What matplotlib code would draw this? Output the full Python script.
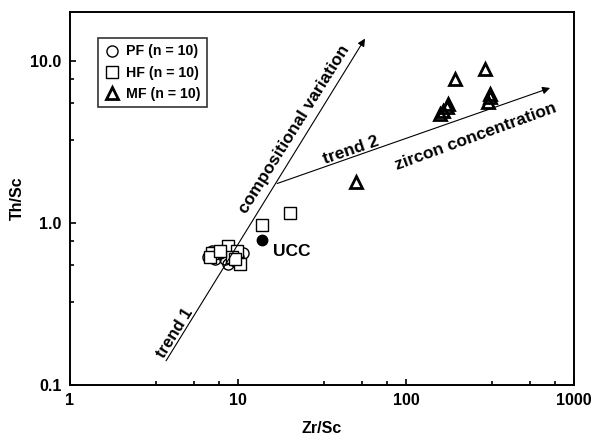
import matplotlib
matplotlib.use('agg')
import matplotlib.pyplot as plt
from matplotlib.ticker import FixedLocator, FixedFormatter, NullFormatter

plt.rcParams['font.family'] = ['Liberation Sans', 'DejaVu Sans']
plt.rcParams['font.weight'] = 'bold'

# PF samples
pf_zr_sc = [7.3, 8.7, 10.7, 6.6, 8.4, 10.0, 7.8, 9.2, 7.0, 9.6]
pf_th_sc = [0.60, 0.56, 0.65, 0.62, 0.60, 0.62, 0.65, 0.67, 0.67, 0.58]

# HF samples
hf_zr_sc = [8.7, 7.0, 10.3, 9.9, 6.8, 9.2, 7.8, 9.6, 13.9, 20.4]
hf_th_sc = [0.72, 0.65, 0.555, 0.67, 0.62, 0.62, 0.67, 0.60, 0.97, 1.15]

# MF samples
mf_zr_sc = [295, 196, 316, 308, 178, 166, 159, 50.4, 176, 316]
mf_th_sc = [8.9, 7.7, 6.2, 5.6, 5.4, 4.9, 4.7, 1.78, 5.16, 6.0]

# upper continental crust
ucc_zr_sc = 13.9
ucc_th_sc = 0.78

# trend arrows (start, end)
trend1 = [(3.73, 0.141), (57, 13.7)]
trend2 = [(17.1, 1.75), (720, 6.8)]

x_major = [1, 10, 100, 1000]
x_labels = ['1', '10', '100', '1000']
y_major = [0.1, 1, 10]
y_labels = ['0.1', '1.0', '10.0']
minor_steps = [3.25, 5.5, 7.75]


def main():
	fig = plt.figure(figsize=(5.95, 4.44), dpi=100)
	ax = fig.add_axes([70 / 595, 59 / 444, 504 / 595, 373 / 444])
	ax.set_xscale('log')
	ax.set_yscale('log')
	ax.set_xlim(1, 1000)
	ax.set_ylim(0.1, 20)

	ax.plot(pf_zr_sc, pf_th_sc, linestyle='none', marker='o', ms=8, mfc='none',
		mec='black', mew=1.0, label='PF (n = 10)')
	ax.plot(hf_zr_sc, hf_th_sc, linestyle='none', marker='s', ms=8.5, mfc='white',
		mec='black', mew=1.0, label='HF (n = 10)')
	ax.plot(mf_zr_sc, mf_th_sc, linestyle='none', marker='^', ms=8, mfc='none',
		mec='black', mew=2.0, label='MF (n = 10)')
	ax.plot([ucc_zr_sc], [ucc_th_sc], linestyle='none', marker='o', ms=7.5,
		color='black')
	ax.text(16.2, 0.67, 'UCC', fontsize=12.5, fontweight='bold', va='center', ha='left')

	# trend arrows
	for start, end in (trend1, trend2):
		ax.annotate('', xy=end, xytext=start,
			arrowprops=dict(arrowstyle='-|>', lw=0.8, color='black',
				mutation_scale=11, shrinkA=0, shrinkB=0))

	ax.text(21.5, 3.8, 'compositional variation', rotation=58, fontsize=12.5,
		ha='center', va='center', fontweight='bold')
	ax.text(4.2, 0.208, 'trend 1', rotation=58, fontsize=12,
		ha='center', va='center', fontweight='bold')
	ax.text(47, 2.82, 'trend 2', rotation=19, fontsize=12.5,
		ha='center', va='center', fontweight='bold')
	ax.text(261, 3.4, 'zircon concentration', rotation=20, fontsize=12.5,
		ha='center', va='center', fontweight='bold')

	# ticks
	x_minor = [s * d for d in [1, 10, 100] for s in minor_steps]
	y_minor = [s * d for d in [0.1, 1, 10] for s in minor_steps]
	ax.xaxis.set_major_locator(FixedLocator(x_major))
	ax.xaxis.set_major_formatter(FixedFormatter(x_labels))
	ax.xaxis.set_minor_locator(FixedLocator(x_minor))
	ax.xaxis.set_minor_formatter(NullFormatter())
	ax.yaxis.set_major_locator(FixedLocator(y_major))
	ax.yaxis.set_major_formatter(FixedFormatter(y_labels))
	ax.yaxis.set_minor_locator(FixedLocator(y_minor))
	ax.yaxis.set_minor_formatter(NullFormatter())
	ax.tick_params(which='both', direction='in', width=1.2, labelsize=11.5)
	ax.tick_params(which='major', length=4, pad=6)
	ax.tick_params(which='minor', length=3)
	for lab in ax.get_xticklabels() + ax.get_yticklabels():
		lab.set_fontweight('bold')
	for spine in ax.spines.values():
		spine.set_linewidth(1.4)

	ax.set_xlabel('Zr/Sc', fontsize=11.5, fontweight='bold', labelpad=9)
	ax.set_ylabel('Th/Sc', fontsize=11.5, fontweight='bold', labelpad=4)

	leg = ax.legend(loc='upper left', bbox_to_anchor=(0.056, 0.93), borderaxespad=0,
		frameon=True, fancybox=False, edgecolor='black', fontsize=10.2,
		handletextpad=0.4, handlelength=1.1, borderpad=0.45, labelspacing=0.5)
	leg.get_frame().set_linewidth(1.2)
	for t in leg.get_texts():
		t.set_fontweight('bold')

	fig.savefig('out.png', dpi=100)


if __name__ == "__main__":
	main()
